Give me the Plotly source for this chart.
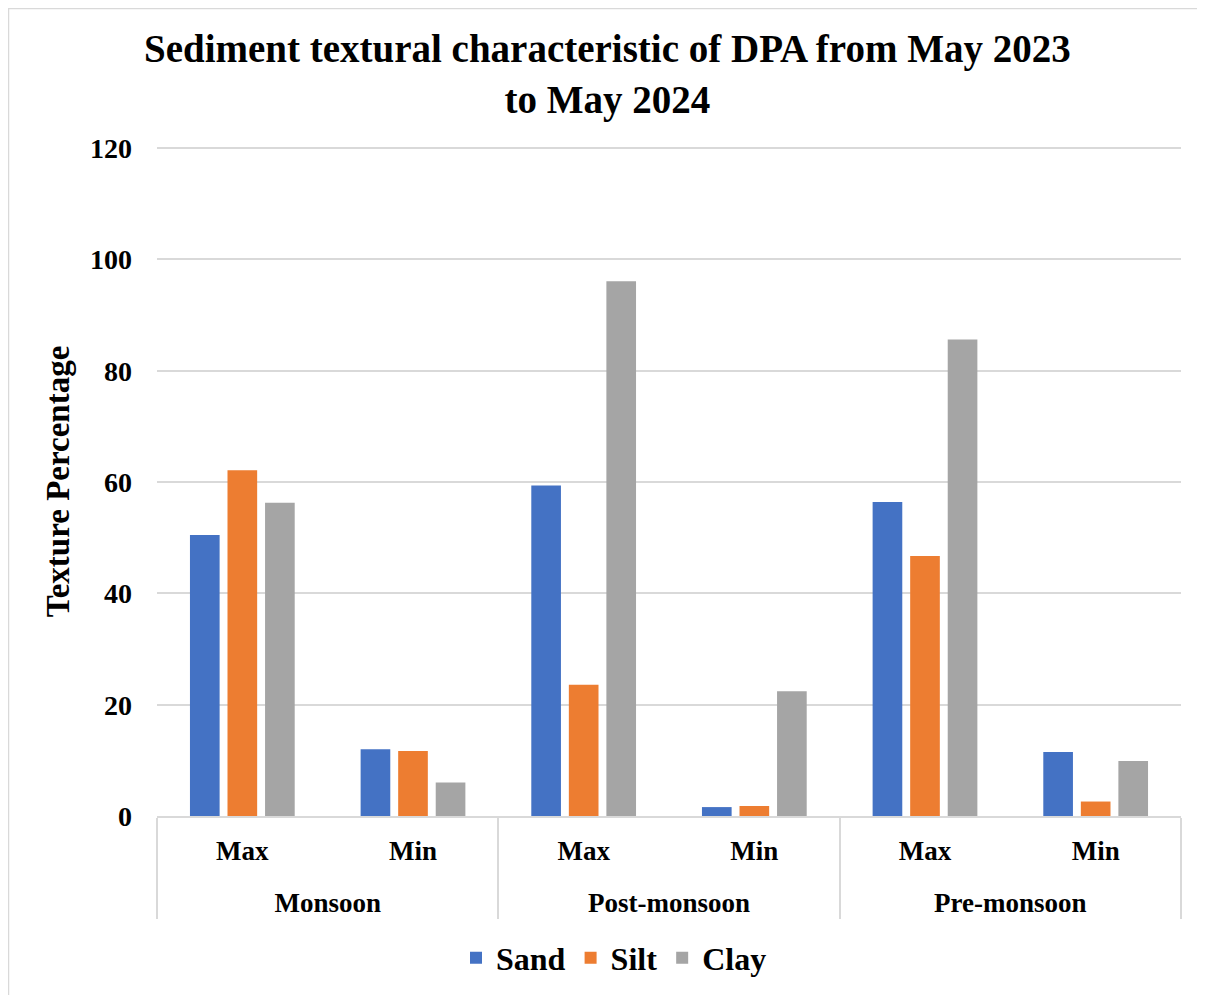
import plotly.graph_objects as go

seasons = ["Monsoon", "Monsoon", "Post-monsoon", "Post-monsoon", "Pre-monsoon", "Pre-monsoon"]
stats = ["Max", "Min", "Max", "Min", "Max", "Min"]
sand = [50.5, 12.0, 59.4, 1.6, 56.4, 11.5]
silt = [62.1, 11.7, 23.6, 1.8, 46.7, 2.6]
clay = [56.3, 6.0, 96.1, 22.4, 85.6, 9.9]
series_names = ["Sand", "Silt", "Clay"]
colors = ["#4472C4", "#ED7D31", "#A5A5A5"]
y_ticks = [0, 20, 40, 60, 80, 100, 120]
title_text = "Sediment textural characteristic of DPA from May 2023<br>to May 2024"

FONT = "Liberation Serif"
W, H = 1197, 987
L, R, T, B = 149, 24, 139, 179
pw, ph = W - L - R, H - T - B

LABEL_STYLE = '<span style="font-size:27px">{}</span>'
season_labels = ["<br>" + LABEL_STYLE.format(s) for s in seasons]
stat_labels = [LABEL_STYLE.format(s) for s in stats]

fig = go.Figure()
for name, vals, col in zip(series_names, [sand, silt, clay], colors):
    fig.add_trace(go.Bar(x=[season_labels, stat_labels], y=vals, name=name,
                         marker=dict(color=col, line=dict(width=0))))

def px_x(p):
    return (p - L) / pw

def px_y(p):
    return (H - B - p) / ph

fig.update_layout(
    width=W, height=H,
    margin=dict(l=L, r=R, t=T, b=B, autoexpand=False),
    paper_bgcolor="white", plot_bgcolor="white",
    barmode="group", bargap=0.34, bargroupgap=0.21,
    font=dict(family=FONT, color="black"),
    legend=dict(orientation="h", x=606 / W, xref="container", xanchor="center",
                y=1 - 950 / H, yref="container", yanchor="middle",
                font=dict(family=FONT, size=32, color="black", weight="bold"),
                itemwidth=30, traceorder="normal"),
    xaxis=dict(type="multicategory", showline=True, linecolor="#d9d9d9", linewidth=1.5,
               showdividers=True, dividercolor="#d9d9d9", dividerwidth=1.5,
               tickfont=dict(family=FONT, size=25, color="black", weight="bold"),
               ticks="", showgrid=False, ticklabelstandoff=12),
    yaxis=dict(range=[0, 120.2], tickvals=y_ticks, showgrid=True, gridcolor="#d9d9d9",
               gridwidth=1.5, zeroline=False, showline=False, ticks="",
               ticklabelstandoff=24,
               tickfont=dict(family=FONT, size=28, color="black", weight="bold"),
               title=dict(text="Texture Percentage", standoff=10,
                          font=dict(family=FONT, size=33, color="black", weight="bold"))),
    annotations=[dict(text=title_text, xref="paper", yref="paper",
                      x=px_x(599), y=px_y(66), xanchor="center", yanchor="middle",
                      showarrow=False,
                      font=dict(family=FONT, size=39, color="black", weight="bold"))],
    shapes=[dict(type="rect", xref="paper", yref="paper",
                 x0=px_x(0.5), x1=px_x(1200), y0=px_y(992), y1=px_y(0.5),
                 line=dict(color="#d9d9d9", width=1.5), fillcolor="rgba(0,0,0,0)", layer="below")],
)

fig.write_html("out.html")
